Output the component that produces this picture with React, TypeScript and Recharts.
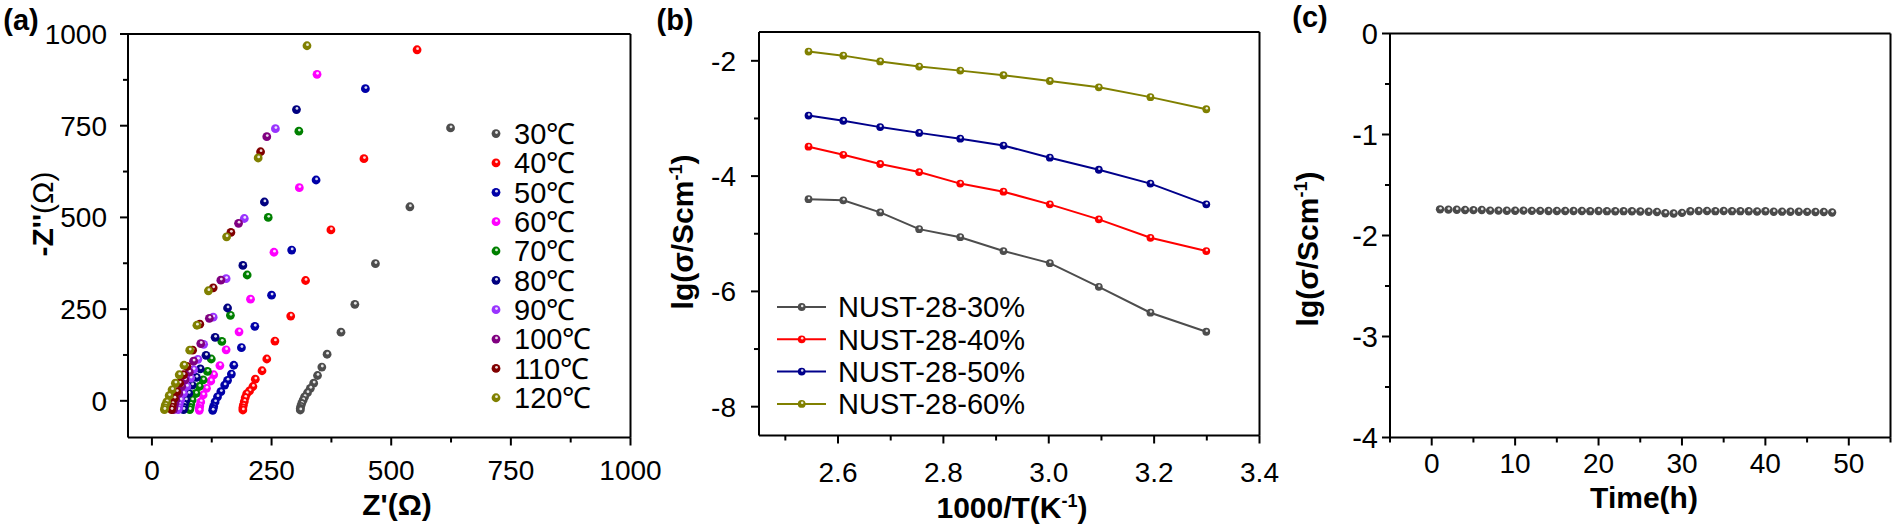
import React from 'react'
import { ScatterChart, Scatter, LineChart, Line, XAxis, YAxis } from 'recharts'

const FONT = "'Liberation Sans', Arial, Helvetica, sans-serif"

// (a) Nyquist plots, pairs of [Z', -Z''] in ohm
const eis30 = [[624, 744], [539, 529], [467, 374], [424, 263], [395, 187], [366, 127], [355, 92], [346, 69], [338, 48], [331, 34], [325, 22], [319, 11], [316, 2], [313, -7], [311, -15], [310, -21], [310, -25]]
const eis40 = [[554, 957], [443, 660], [374, 466], [321, 328], [290, 231], [257, 163], [240, 114], [230, 82], [216, 59], [211, 39], [204, 27], [198, 19], [195, 9], [193, -2], [191, -12], [190, -19], [190, -25]]
const eis50 = [[446, 851], [343, 602], [292, 411], [250, 288], [215, 203], [187, 145], [171, 97], [166, 73], [158, 56], [152, 43], [144, 25], [137, 11], [132, -3], [129, -15], [128, -21], [127, -26]]
const eis60 = [[345, 890], [308, 581], [255, 405], [206, 277], [182, 188], [155, 139], [142, 96], [129, 71], [123, 54], [114, 34], [107, 16], [102, -3], [100, -14], [99, -21], [99, -26]]
const eis70 = [[307, 735], [243, 500], [199, 343], [164, 233], [146, 162], [124, 114], [116, 80], [107, 57], [99, 39], [92, 20], [84, 2], [81, -10], [80, -18], [79, -24]]
const eis80 = [[302, 794], [235, 542], [190, 369], [158, 253], [132, 173], [113, 124], [101, 87], [93, 64], [84, 43], [77, 20], [71, 2], [68, -10], [67, -18], [66, -24]]
const eis90 = [[258, 742], [193, 497], [155, 333], [128, 228], [108, 154], [96, 113], [87, 85], [81, 62], [73, 39], [66, 20], [60, 2], [57, -10], [56, -18], [55, -24]]
const eis100 = [[240, 720], [181, 484], [144, 329], [120, 225], [102, 156], [87, 108], [78, 78], [69, 57], [62, 39], [56, 20], [50, 2], [47, -10], [46, -18], [45, -24]]
const eis110 = [[227, 679], [165, 459], [128, 308], [100, 209], [85, 138], [73, 94], [66, 71], [58, 48], [52, 25], [47, 7], [43, -8], [42, -17], [41, -24]]
const eis120 = [[324, 968], [222, 662], [156, 447], [118, 300], [94, 206], [79, 138], [67, 97], [57, 71], [49, 48], [42, 30], [36, 14], [31, -3], [28, -12], [27, -19], [26, -24]]

const eisSets = [eis30, eis40, eis50, eis60, eis70, eis80, eis90, eis100, eis110, eis120]
const eisNames = ['30℃', '40℃', '50℃', '60℃', '70℃', '80℃', '90℃', '100℃', '110℃', '120℃']
const eisColors = ['#4d4d4d', '#ff0000', '#0000a8', '#ff00ff', '#008000', '#000080', '#9933ff', '#800080', '#800000', '#808000']

// (b) Arrhenius plots
const invT = [2.544, 2.610, 2.680, 2.754, 2.832, 2.914, 3.002, 3.095, 3.193, 3.299]
const lg30 = [-4.40, -4.42, -4.63, -4.92, -5.06, -5.30, -5.51, -5.92, -6.37, -6.70]
const lg40 = [-3.49, -3.63, -3.79, -3.93, -4.13, -4.27, -4.49, -4.75, -5.07, -5.30]
const lg50 = [-2.95, -3.04, -3.15, -3.25, -3.35, -3.47, -3.68, -3.89, -4.13, -4.49]
const lg60 = [-1.84, -1.91, -2.01, -2.10, -2.17, -2.25, -2.35, -2.46, -2.63, -2.84]
const nustNames = ['NUST-28-30%', 'NUST-28-40%', 'NUST-28-50%', 'NUST-28-60%']
const nustKeys = ['s30', 's40', 's50', 's60']
const nustColors = ['#4d4d4d', '#ff0000', '#00008b', '#808000']

// (c) stability over time
const hours = [1, 2, 3, 4, 5, 6, 7, 8, 9, 10, 11, 12, 13, 14, 15, 16, 17, 18, 19, 20, 21, 22, 23, 24, 25, 26, 27, 28, 29, 30, 31, 32, 33, 34, 35, 36, 37, 38, 39, 40, 41, 42, 43, 44, 45, 46, 47, 48]
const lgTime = [-1.741, -1.744, -1.745, -1.748, -1.749, -1.748, -1.754, -1.754, -1.755, -1.755, -1.754, -1.756, -1.756, -1.757, -1.757, -1.758, -1.758, -1.758, -1.759, -1.758, -1.759, -1.760, -1.759, -1.760, -1.762, -1.765, -1.767, -1.780, -1.782, -1.776, -1.760, -1.758, -1.758, -1.759, -1.758, -1.759, -1.759, -1.760, -1.762, -1.760, -1.765, -1.764, -1.765, -1.765, -1.766, -1.767, -1.768, -1.772]

// ticks
const aMajor = [0, 250, 500, 750, 1000]
const aMinor = [125, 375, 625, 875]
const bXMajor = [2.6, 2.8, 3.0, 3.2, 3.4]
const bXMinor = [2.5, 2.7, 2.9, 3.1, 3.3]
const bYMajor = [-2, -4, -6, -8]
const bYMinor = [-3, -5, -7]
const cXMajor = [0, 10, 20, 30, 40, 50]
const cXMinor = [-5, 5, 15, 25, 35, 45, 55]
const cYMajor = [0, -1, -2, -3, -4]
const cYMinor = [-0.5, -1.5, -2.5, -3.5]

const nyquist = eisSets.map((set) => set.map(([x, y]) => ({ x, y })))
const arrhenius = invT.map((t, i) => ({ t, s30: lg30[i], s40: lg40[i], s50: lg50[i], s60: lg60[i] }))
const stability = hours.map((h, i) => ({ x: h, y: lgTime[i] }))

const axisLine = { stroke: '#000', strokeWidth: 2 }
const isIn = (list: number[], v: number) => list.some((m) => Math.abs(m - v) < 1e-9)

// plot boxes are set through margins; each axis is 1px thick so it still renders
function box(w: number, left: number, right: number, top: number, bottom: number) {
  return { top: top - 1, left: left - 1, right: w - right - 1, bottom: 529 - bottom - 1 }
}

function bottomTick(majors: number[], fmt: (v: number) => string, dyLabel: number, fs: number) {
  return (props: any) => {
    const { x, y, payload } = props
    const major = isIn(majors, payload.value)
    return (
      <g>
        <line x1={x} x2={x} y1={y} y2={y + (major ? 8 : 5)} stroke="#000" strokeWidth={2} />
        {major && (
          <text x={x} y={y + dyLabel} dy="0.36em" textAnchor="middle" fontSize={fs} fontFamily={FONT} fill="#000">
            {fmt(payload.value)}
          </text>
        )}
      </g>
    )
  }
}

function leftTick(majors: number[], gap: number, fs: number) {
  return (props: any) => {
    const { x, y, payload } = props
    const major = isIn(majors, payload.value)
    return (
      <g>
        <line x1={x - (major ? 8 : 5)} x2={x} y1={y} y2={y} stroke="#000" strokeWidth={2} />
        {major && (
          <text x={x - gap} y={y} dy="0.36em" textAnchor="end" fontSize={fs} fontFamily={FONT} fill="#000">
            {String(payload.value)}
          </text>
        )}
      </g>
    )
  }
}

function Ball({ cx, cy, color, r = 4.4 }: { cx: number; cy: number; color: string; r?: number }) {
  return (
    <g>
      <circle cx={cx} cy={cy} r={r} fill={color} />
      <circle cx={cx + 0.5} cy={cy - 1.1} r={r * 0.32} fill="#fff" opacity={0.85} />
    </g>
  )
}

function Label({ x, y, size, bold, rotate, children }: any) {
  return (
    <div
      style={{
        position: 'absolute',
        left: x,
        top: y,
        transform: `translate(-50%, -50%)${rotate ? ' rotate(-90deg)' : ''}`,
        fontSize: size,
        fontWeight: bold ? 700 : 400,
        fontFamily: FONT,
        lineHeight: 1,
        whiteSpace: 'nowrap',
        color: '#000',
      }}
    >
      {children}
    </div>
  )
}

const sup = { fontSize: '0.6em', position: 'relative' as const, top: '-0.6em' }

export default function App() {
  return (
    <div style={{ position: 'absolute', left: 0, top: 0, width: 1895, height: 529, background: '#fff', overflow: 'hidden' }}>
      {/* (a) */}
      <div style={{ position: 'absolute', left: 0, top: 0 }}>
        <ScatterChart width={680} height={529} margin={box(680, 128, 630.5, 34, 437.5)}>
          <XAxis type="number" dataKey="x" domain={[-50, 1000]} ticks={[...aMajor, ...aMinor]} interval={0}
            height={1} tickSize={0} tickMargin={0} tickLine={false} axisLine={axisLine}
            tick={bottomTick(aMajor, (v) => String(v), 32, 28)} />
          <YAxis type="number" dataKey="y" domain={[-100, 1000]} ticks={[...aMajor, ...aMinor]} interval={0}
            width={1} tickSize={0} tickMargin={0} tickLine={false} axisLine={axisLine}
            tick={leftTick(aMajor, 21, 28)} />
          <XAxis xAxisId="top" orientation="top" type="number" domain={[-50, 1000]} height={1} tick={false} tickLine={false} axisLine={axisLine} />
          <YAxis yAxisId="right" orientation="right" type="number" domain={[-100, 1000]} width={1} tick={false} tickLine={false} axisLine={axisLine} />
          {nyquist.map((pts, i) => (
            <Scatter key={eisNames[i]} name={eisNames[i]} data={pts} fill={eisColors[i]} isAnimationActive={false}
              shape={(p: any) => <Ball cx={p.cx} cy={p.cy} color={eisColors[i]} />} />
          ))}
        </ScatterChart>
      </div>

      {/* (b) */}
      <div style={{ position: 'absolute', left: 640, top: 0 }}>
        <LineChart width={660} height={529} data={arrhenius} margin={box(660, 119, 619.5, 32, 435.5)}>
          <XAxis type="number" dataKey="t" domain={[2.45, 3.4]} ticks={[...bXMajor, ...bXMinor]} interval={0}
            height={1} tickSize={0} tickMargin={0} tickLine={false} axisLine={axisLine}
            tick={bottomTick(bXMajor, (v) => v.toFixed(1), 36, 28)} />
          <YAxis type="number" domain={[-8.5, -1.5]} ticks={[...bYMajor, ...bYMinor]} interval={0}
            width={1} tickSize={0} tickMargin={0} tickLine={false} axisLine={axisLine}
            tick={leftTick(bYMajor, 23, 28)} />
          <XAxis xAxisId="top" orientation="top" type="number" domain={[2.45, 3.4]} height={1} tick={false} tickLine={false} axisLine={axisLine} />
          <YAxis yAxisId="right" orientation="right" type="number" domain={[-8.5, -1.5]} width={1} tick={false} tickLine={false} axisLine={axisLine} />
          {nustKeys.map((k, i) => (
            <Line key={k} dataKey={k} name={nustNames[i]} stroke={nustColors[i]} strokeWidth={2} isAnimationActive={false}
              dot={(p: any) => <Ball key={`${k}-${p.index}`} cx={p.cx} cy={p.cy} color={nustColors[i]} r={3.9} />}
              activeDot={false} />
          ))}
        </LineChart>
      </div>

      {/* (c) */}
      <div style={{ position: 'absolute', left: 1270, top: 0 }}>
        <ScatterChart width={625} height={529} margin={box(625, 120, 620.5, 33.5, 437.5)}>
          <XAxis type="number" dataKey="x" domain={[-5, 55]} ticks={[...cXMajor, ...cXMinor]} interval={0}
            height={1} tickSize={0} tickMargin={0} tickLine={false} axisLine={axisLine}
            tick={bottomTick(cXMajor, (v) => String(v), 25, 28)} />
          <YAxis type="number" dataKey="y" domain={[-4, 0]} ticks={[...cYMajor, ...cYMinor]} interval={0}
            width={1} tickSize={0} tickMargin={0} tickLine={false} axisLine={axisLine}
            tick={leftTick(cYMajor, 12, 29)} />
          <XAxis xAxisId="top" orientation="top" type="number" domain={[-5, 55]} height={1} tick={false} tickLine={false} axisLine={axisLine} />
          <YAxis yAxisId="right" orientation="right" type="number" domain={[-4, 0]} width={1} tick={false} tickLine={false} axisLine={axisLine} />
          <Scatter data={stability} fill="#4a4a4a" isAnimationActive={false}
            shape={(p: any) => <Ball cx={p.cx} cy={p.cy} color="#4a4a4a" r={4.2} />} />
        </ScatterChart>
      </div>

      {/* legends */}
      <svg width={1895} height={529} style={{ position: 'absolute', left: 0, top: 0, pointerEvents: 'none' }}>
        {eisNames.map((n, i) => {
          const y = 133.6 + 29.35 * i
          return (
            <g key={n}>
              <Ball cx={496} cy={y} color={eisColors[i]} />
              <text x={514} y={y} dy="0.36em" fontSize={29} fontFamily={FONT} fill="#000">{n}</text>
            </g>
          )
        })}
        {nustNames.map((n, i) => {
          const y = 307 + 32.3 * i
          return (
            <g key={n}>
              <line x1={777} x2={826} y1={y} y2={y} stroke={nustColors[i]} strokeWidth={2} />
              <Ball cx={801.7} cy={y} color={nustColors[i]} r={3.9} />
              <text x={838} y={y} dy="0.36em" fontSize={29} fontFamily={FONT} fill="#000">{n}</text>
            </g>
          )
        })}
      </svg>

      {/* panel letters and axis titles */}
      <Label x={21} y={20} size={29} bold>(a)</Label>
      <Label x={675} y={20} size={29} bold>(b)</Label>
      <Label x={1310} y={17} size={29} bold>(c)</Label>

      <Label x={397} y={505} size={30} bold>Z'(Ω)</Label>
      <Label x={43} y={214} size={30} bold rotate>-Z''<span style={{ fontWeight: 400 }}>(Ω)</span></Label>

      <Label x={1012} y={508} size={30} bold>1000/T(K<span style={sup}>-1</span>)</Label>
      <Label x={683} y={232} size={30} bold rotate>lg(σ/Scm<span style={sup}>-1</span>)</Label>

      <Label x={1644} y={498} size={30} bold>Time(h)</Label>
      <Label x={1308} y={249} size={30} bold rotate>lg(σ/Scm<span style={sup}>-1</span>)</Label>
    </div>
  )
}
